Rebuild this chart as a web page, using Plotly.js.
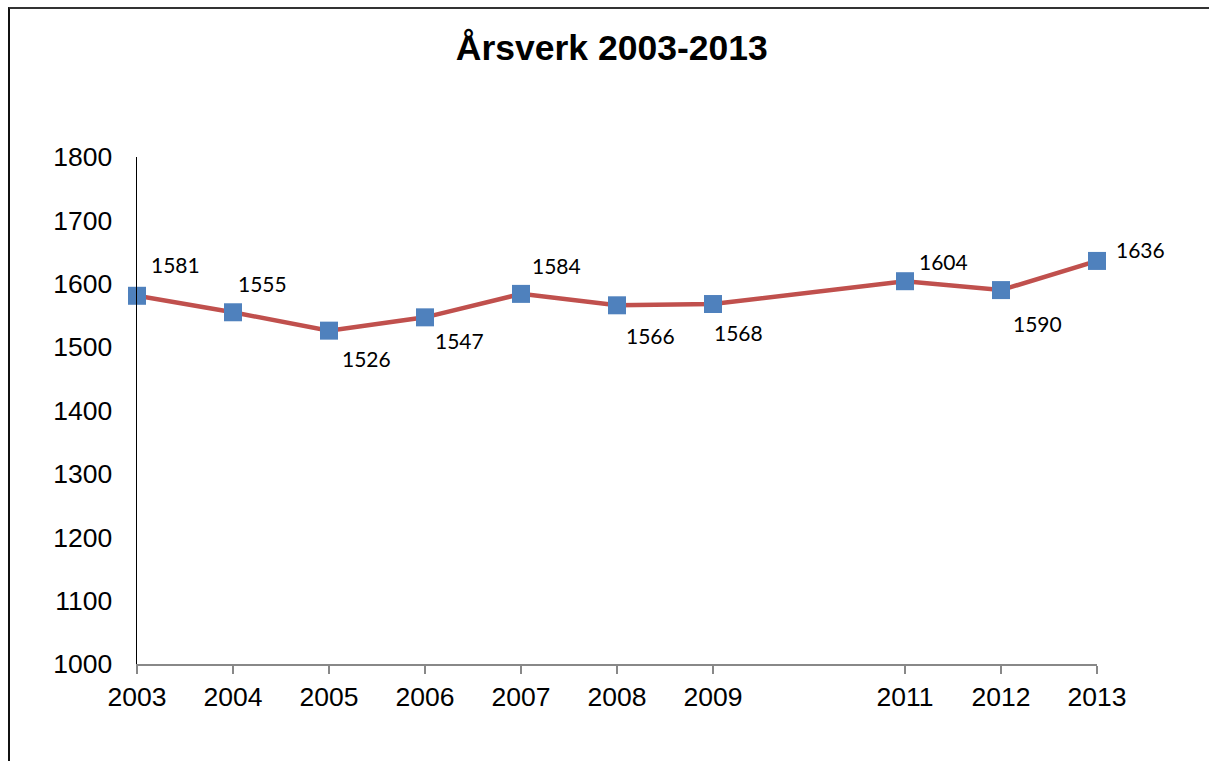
<!DOCTYPE html>
<html>
<head>
<meta charset="utf-8">
<script src="https://cdn.plot.ly/plotly-3.0.1.min.js"></script>
<style>
html,body{margin:0;padding:0;background:#fff;}
#wrap{position:relative;width:1209px;height:761px;overflow:hidden;}
#chart{position:absolute;left:0;top:0;width:1209px;height:761px;}
#frame{position:absolute;left:8px;top:7px;width:1400px;height:900px;border-left:2px solid #111;border-top:2px solid #333;pointer-events:none;}
</style>
</head>
<body>
<div id="wrap"><div id="chart"></div><div id="frame"></div></div>
<script>
// Data
const years = [2003, 2004, 2005, 2006, 2007, 2008, 2009, 2011, 2012, 2013];
const arsverk = [1581, 1555, 1526, 1547, 1584, 1566, 1568, 1604, 1590, 1636];
const tickLabels = ["2003","2004","2005","2006","2007","2008","2009","2011","2012","2013"];
const yTicks = [1000, 1100, 1200, 1300, 1400, 1500, 1600, 1700, 1800];

// label offsets (pixels), style only
const labelDx = [38, 29, 37, 34, 35, 33, 25, 38, 36, 43];
const labelDy = [31, 29, -28, -23, 28, -30, -28, 20, -33, 11];

const trace = {
  x: years, y: arsverk, type: 'scatter', mode: 'lines+markers',
  line: {color: '#C0504D', width: 4.5},
  marker: {symbol: 'square', size: 18, color: '#4F81BD'},
  cliponaxis: false,
  hoverinfo: 'x+y'
};

const annotations = years.map((yr, i) => ({
  x: yr, y: arsverk[i], xref: 'x', yref: 'y',
  text: String(arsverk[i]), showarrow: false,
  xshift: labelDx[i], yshift: labelDy[i],
  font: {family: 'Lato, "Open Sans", sans-serif', size: 21, color: '#000'}
}));

const layout = {
  width: 1209, height: 761,
  margin: {l: 137, r: 112, t: 157, b: 97},
  paper_bgcolor: '#fff', plot_bgcolor: '#fff',
  title: {text: '<b>Årsverk 2003-2013</b>', x: 0.506, xref: 'container', xanchor: 'center', y: 0.937, yanchor: 'middle',
          font: {family: '"Liberation Sans", Arial, sans-serif', size: 35.5, color: '#000'}},
  showlegend: false,
  xaxis: {
    range: [2003, 2013], tickmode: 'array', tickvals: years, ticktext: tickLabels,
    showgrid: false, zeroline: false, showline: true, linecolor: '#888', linewidth: 2,
    ticks: 'outside', ticklen: 8, tickwidth: 2, tickcolor: '#888',
    tickfont: {family: '"Liberation Sans", Arial, sans-serif', size: 26.5, color: '#000'},
    fixedrange: true
  },
  yaxis: {
    range: [1000, 1800], tickmode: 'array', tickvals: yTicks,
    showgrid: false, zeroline: false, showline: true, linecolor: '#000', linewidth: 1.5,
    ticks: '', ticklabelstandoff: 18,
    tickfont: {family: '"Liberation Sans", Arial, sans-serif', size: 26.5, color: '#000'},
    fixedrange: true
  },
  annotations: annotations
};

Plotly.newPlot('chart', [trace], layout, {displayModeBar: false, staticPlot: true});
</script>
</body>
</html>
